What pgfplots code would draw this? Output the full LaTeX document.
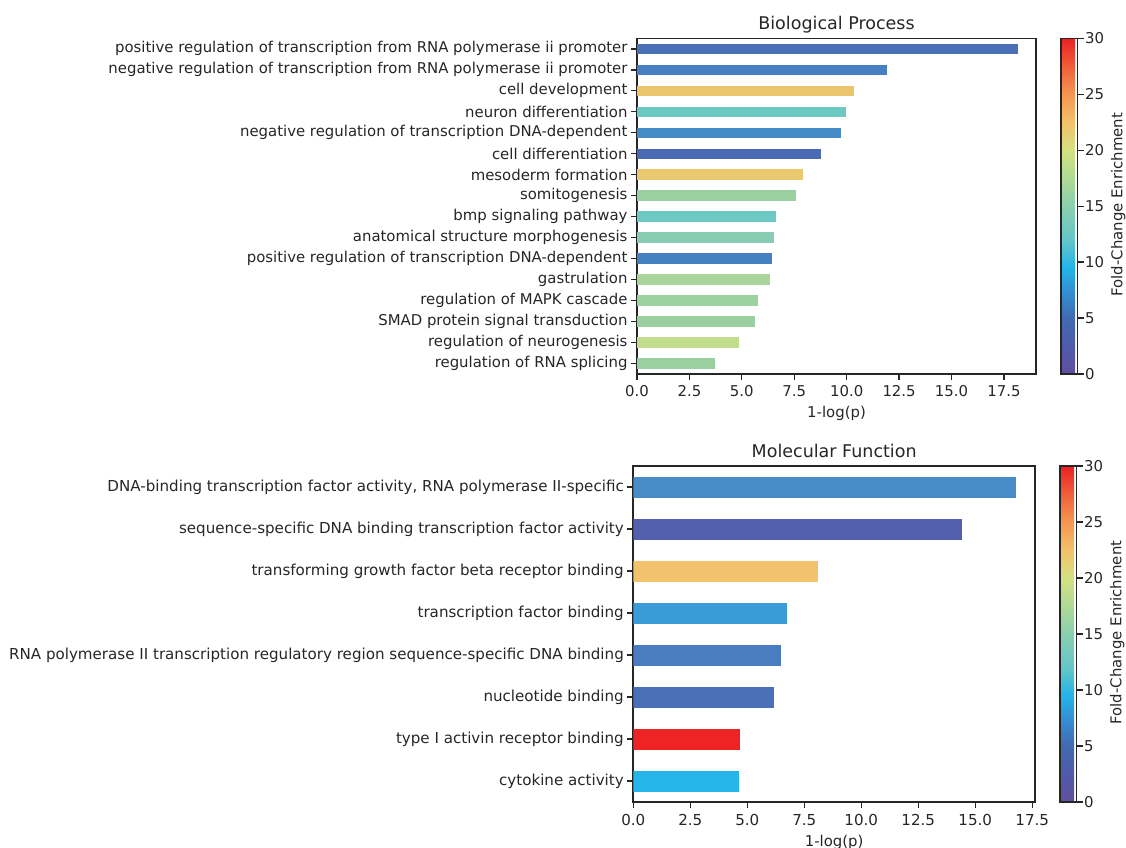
\documentclass[border=0pt]{standalone}
\usepackage{pgfplots}
\pgfplotsset{compat=1.18}
\usepackage{fontspec}
\setmainfont{DejaVu Sans}
\definecolor{txt}{RGB}{38,38,38}
% top bars
\definecolor{t1}{RGB}{74,112,181}
\definecolor{t2}{RGB}{71,128,192}
\definecolor{t3}{RGB}{235,197,108}
\definecolor{t4}{RGB}{108,201,195}
\definecolor{t5}{RGB}{68,139,200}
\definecolor{t6}{RGB}{74,106,179}
\definecolor{t7}{RGB}{233,200,112}
\definecolor{t8}{RGB}{154,208,160}
\definecolor{t9}{RGB}{108,201,195}
\definecolor{t10}{RGB}{136,205,177}
\definecolor{t11}{RGB}{69,128,194}
\definecolor{t12}{RGB}{169,213,154}
\definecolor{t13}{RGB}{156,210,160}
\definecolor{t14}{RGB}{154,208,160}
\definecolor{t15}{RGB}{194,221,140}
\definecolor{t16}{RGB}{154,208,160}
% bottom bars
\definecolor{m1}{RGB}{71,139,199}
\definecolor{m2}{RGB}{83,96,174}
\definecolor{m3}{RGB}{242,195,108}
\definecolor{m4}{RGB}{58,155,214}
\definecolor{m5}{RGB}{74,124,193}
\definecolor{m6}{RGB}{74,112,184}
\definecolor{m7}{RGB}{238,35,36}
\definecolor{m8}{RGB}{37,181,232}
\newcommand{\tf}{\fontsize{14.9bp}{17bp}\selectfont}
\newcommand{\tfb}{\fontsize{15.1bp}{18bp}\selectfont}
\pgfplotsset{
  colormap={fce}{rgb255(0)=(98,78,158) rgb255(2.5)=(80,90,170) rgb255(5)=(66,106,178)
    rgb255(7.5)=(50,145,212) rgb255(9.5)=(35,180,232) rgb255(12)=(100,198,200)
    rgb255(15)=(138,208,175) rgb255(17.5)=(175,218,150) rgb255(20)=(212,225,130)
    rgb255(22.5)=(243,193,105) rgb255(25)=(245,150,82) rgb255(27.5)=(240,95,58)
    rgb255(30)=(237,32,36)},
  bp/.style={xbar, bar shift=0pt, bar width=0.5, draw=none, fill=#1},
  go/.style={
    scale only axis,
    font=\tf,
    /pgf/number format/assume math mode=true,
    axis line style={line width=1.6bp, draw=txt},
    major tick style={line width=1.3bp, draw=txt},
    major tick length=6bp,
    tick align=outside,
    xtick pos=lower, ytick pos=left,
    y dir=reverse,
    xmin=0,
    xtick={0,2.5,...,17.5},
    xticklabel style={/pgf/number format/fixed, /pgf/number format/fixed zerofill, /pgf/number format/precision=1},
    ticklabel style={text=txt, font=\tf},
    label style={text=txt, font=\tf},
    title style={text=txt, font=\fontsize{17.5bp}{20bp}\selectfont},
    xlabel={1-log(p)},
    colorbar,
    colormap name=fce,
    point meta min=0, point meta max=30,
    colorbar style={
      scale only axis,
      at={(parent axis.north east)}, anchor=north west, xshift=16.5bp,
      width=16.6bp,
      ytick={0,5,...,30},
      ylabel={Fold-Change Enrichment},
      axis line style={line width=1.6bp, draw=txt},
      major tick style={line width=1.3bp, draw=txt},
      major tick length=6bp,
      tick align=outside,
      ytick pos=right, yticklabel pos=right,
      yticklabel style={xshift=-2bp},
      ylabel style={xshift=1.5bp},
      ticklabel style={text=txt, font=\tf},
      label style={text=txt, font=\tf},
      /pgf/number format/assume math mode=true,
    },
  },
}
\begin{document}
\begin{tikzpicture}
\path[use as bounding box] (0,0) rectangle (1126bp,848bp);
\begin{axis}[go,
  at={(637bp,474bp)}, anchor=south west,
  width=399bp, height=335.6bp,
  xmax=19.03, ymin=-0.5, ymax=15.5,
  title={Biological Process},
  title style={yshift=-4bp},
  xticklabel style={yshift=-2bp},
  xlabel style={yshift=-2.5bp},
  ytick={0,...,15},
  yticklabels={positive regulation of transcription from RNA polymerase ii promoter,
    negative regulation of transcription from RNA polymerase ii promoter,
    cell development, neuron differentiation,
    negative regulation of transcription DNA-dependent,
    cell differentiation, mesoderm formation, somitogenesis,
    bmp signaling pathway, anatomical structure morphogenesis,
    positive regulation of transcription DNA-dependent,
    gastrulation, regulation of MAPK cascade,
    SMAD protein signal transduction, regulation of neurogenesis,
    regulation of RNA splicing},
]
\addplot[bp=t1] coordinates {(18.19,0)};
\addplot[bp=t2] coordinates {(11.94,1)};
\addplot[bp=t3] coordinates {(10.37,2)};
\addplot[bp=t4] coordinates {(9.98,3)};
\addplot[bp=t5] coordinates {(9.75,4)};
\addplot[bp=t6] coordinates {(8.79,5)};
\addplot[bp=t7] coordinates {(7.93,6)};
\addplot[bp=t8] coordinates {(7.60,7)};
\addplot[bp=t9] coordinates {(6.65,8)};
\addplot[bp=t10] coordinates {(6.55,9)};
\addplot[bp=t11] coordinates {(6.45,10)};
\addplot[bp=t12] coordinates {(6.36,11)};
\addplot[bp=t13] coordinates {(5.79,12)};
\addplot[bp=t14] coordinates {(5.64,13)};
\addplot[bp=t15] coordinates {(4.88,14)};
\addplot[bp=t16] coordinates {(3.74,15)};
\end{axis}
\begin{axis}[go,
  at={(633.3bp,46bp)}, anchor=south west,
  width=401.7bp, height=336bp,
  xmax=17.62, ymin=-0.5, ymax=7.5,
  title={Molecular Function},
  title style={yshift=-1bp},
  xticklabel style={yshift=-3bp},
  xlabel style={yshift=-2bp},
  ytick={0,...,7},
  ticklabel style={font=\tfb},
  yticklabels={{DNA-binding transcription factor activity, RNA polymerase II-specific},
    sequence-specific DNA binding transcription factor activity,
    transforming growth factor beta receptor binding,
    transcription factor binding,
    RNA polymerase II transcription regulatory region sequence-specific DNA binding,
    nucleotide binding, type I activin receptor binding, cytokine activity},
]
\addplot[bp=m1] coordinates {(16.78,0)};
\addplot[bp=m2] coordinates {(14.42,1)};
\addplot[bp=m3] coordinates {(8.12,2)};
\addplot[bp=m4] coordinates {(6.72,3)};
\addplot[bp=m5] coordinates {(6.46,4)};
\addplot[bp=m6] coordinates {(6.15,5)};
\addplot[bp=m7] coordinates {(4.66,6)};
\addplot[bp=m8] coordinates {(4.62,7)};
\end{axis}
\end{tikzpicture}
\end{document}
